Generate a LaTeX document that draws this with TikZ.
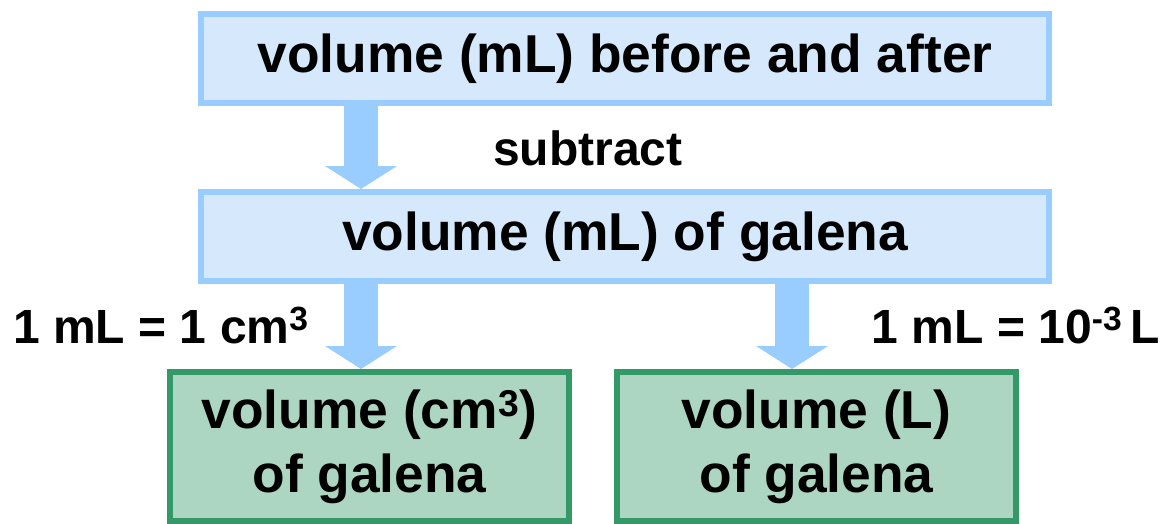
\documentclass[tikz,border=0pt]{standalone}
\usepackage{fontspec}
\setmainfont{Liberation Sans}
\usepackage{tikz}
\usetikzlibrary{arrows.meta}
\usetikzlibrary{positioning}

\definecolor{boxblue}{HTML}{D5E8FC}
\definecolor{lineblue}{HTML}{99CCFF}
\definecolor{boxgreen}{HTML}{ACD6C2}
\definecolor{linegreen}{HTML}{339966}

\tikzset{
    bluebox/.style={draw=lineblue, fill=boxblue, line width=4.5pt,
        minimum width=636pt, minimum height=66.75pt,
        font=\fontsize{40}{46}\selectfont\bfseries},
    greenbox/.style={draw=linegreen, fill=boxgreen, line width=4.5pt,
        minimum width=299.25pt, minimum height=111.75pt, align=center,
        font=\fontsize{40}{48}\selectfont\bfseries},
    lbl/.style={inner sep=0pt, font=\fontsize{36}{40}\selectfont\bfseries},
    bigarrow/.style={draw=lineblue, line width=25.5pt,
        -{Triangle[width=54pt, length=17.25pt, line width=0pt]}}
}

\begin{document}
\begin{tikzpicture}[x=0.75pt, y=-0.75pt]
    \useasboundingbox (0,0) rectangle (1166,524);
    \node[bluebox] (before) at (625,58.5) {volume (mL) before and after};
    \node[bluebox] (galena) at (625,236.5) {volume (mL) of galena};
    \node[greenbox] (cm) at (369.5,446.5) {volume (cm\textsuperscript{3})\\of galena};
    \node[greenbox] (litre) at (816.5,446.5) {volume (L)\\of galena};
    % arrow columns
    \coordinate (left) at (361,0);
    \coordinate (right) at (792,0);
    \draw[bigarrow] (before.south -| left) -- (galena.north -| left);
    \draw[bigarrow] (galena.south -| left) -- (cm.north -| left);
    \draw[bigarrow] (galena.south -| right) -- (litre.north -| right);
    % conversion labels
    \node[lbl, anchor=base west] (subtract) at (493,166) {subtract};
    \node[lbl, anchor=base west] (tocm) at (13,343) {1 mL = 1 cm\textsuperscript{3}};
    \node[lbl, anchor=base east] (tolitre) at (1160,343) {1 mL = 10\textsuperscript{-3}\,L};
\end{tikzpicture}
\end{document}
